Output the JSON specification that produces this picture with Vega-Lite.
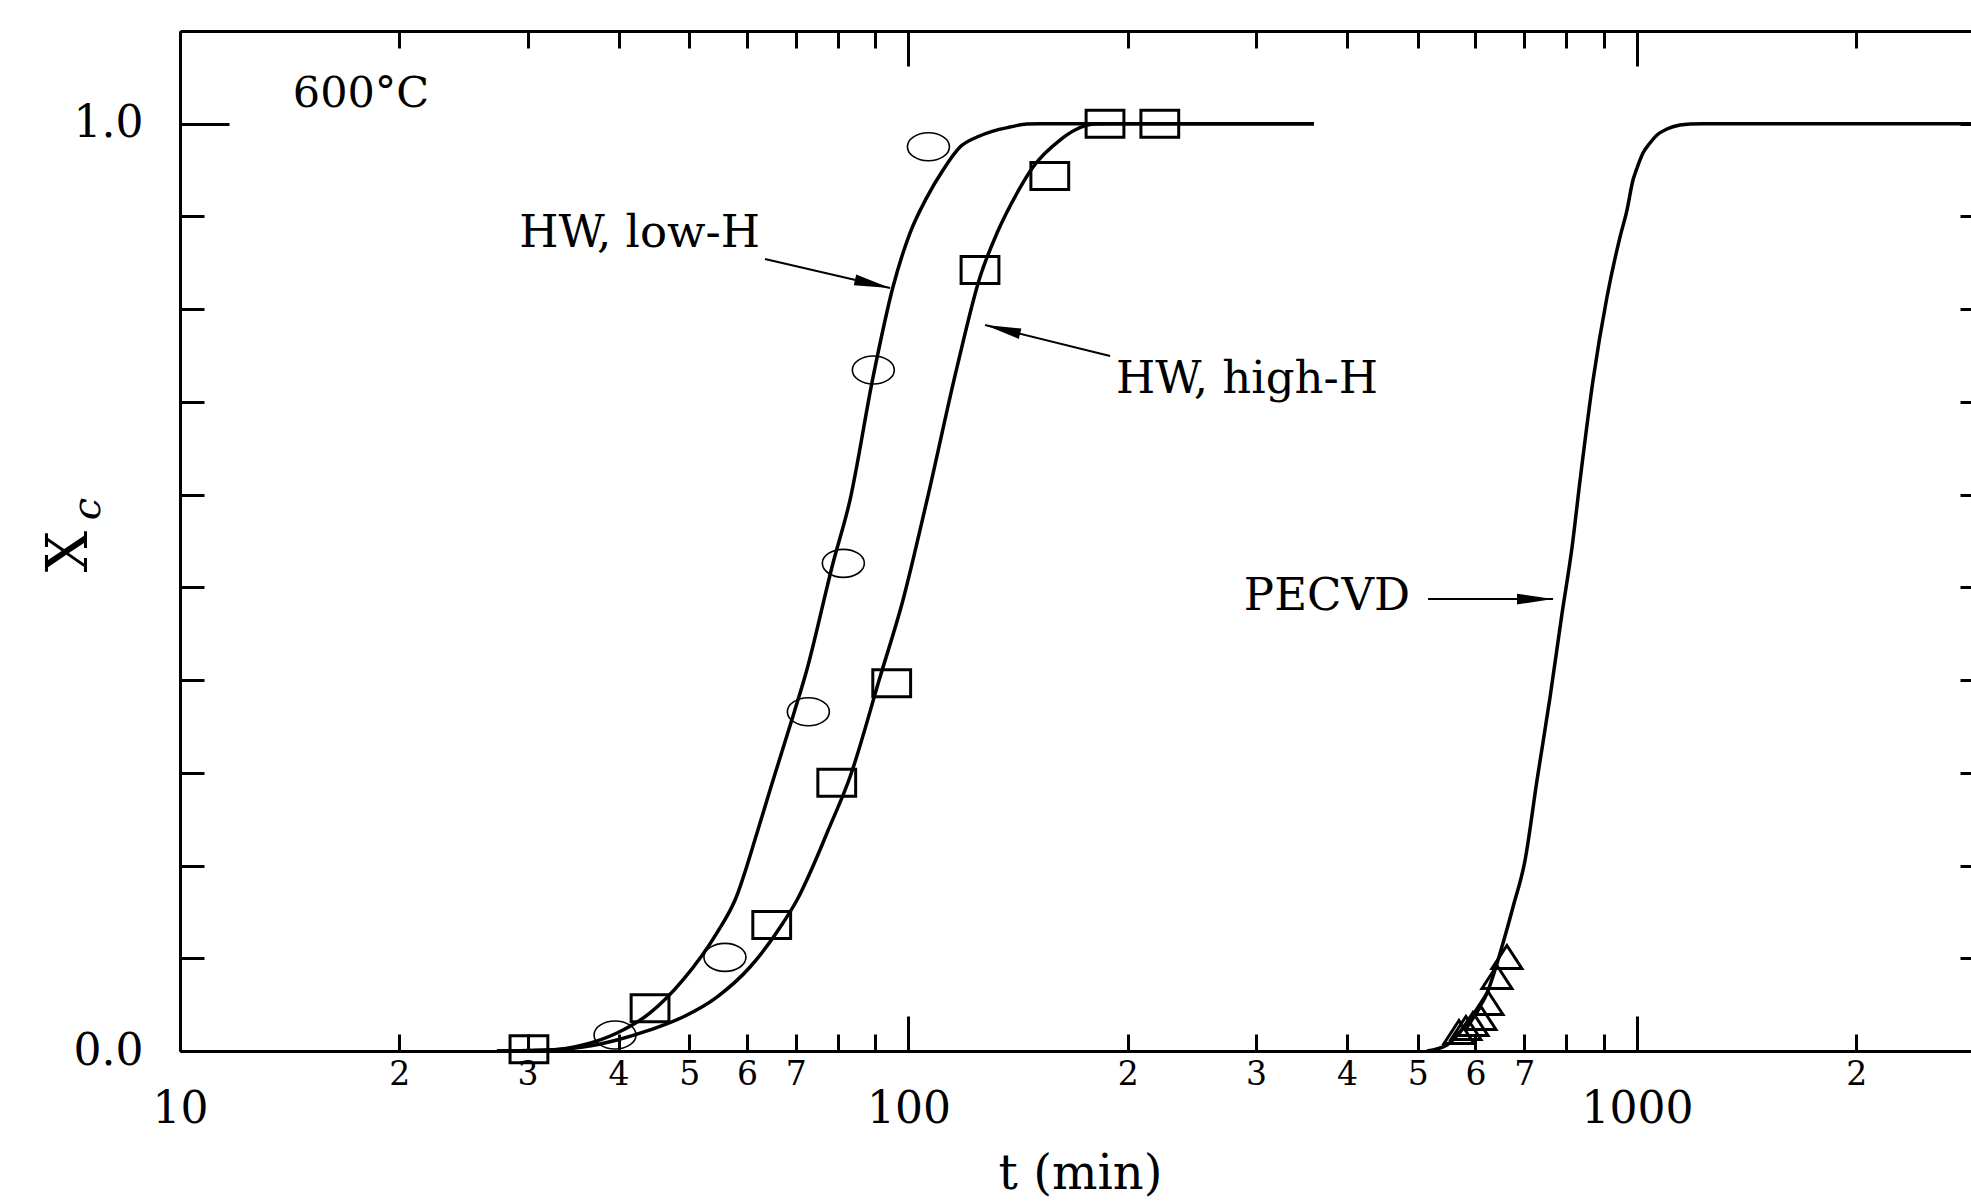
{
  "$schema": "https://vega.github.io/schema/vega-lite/v6.json",
  "width": 1791,
  "height": 1020,
  "autosize": {"type": "none"},
  "padding": {"left": 180, "top": 31, "right": 0, "bottom": 151},
  "background": "white",
  "config": {
    "view": {"stroke": null},
    "axis": {
      "grid": false,
      "domainColor": "black",
      "tickColor": "black",
      "domainWidth": 3,
      "tickWidth": 3,
      "labelColor": "black",
      "labelFont": "DejaVu Serif",
      "titleFont": "DejaVu Serif",
      "titleColor": "black",
      "titleFontWeight": "normal"
    },
    "text": {"font": "DejaVu Serif", "color": "black"}
  },
  "layer": [
    {
      "data": {"values": [
        {"s": "low", "t": 27.23, "xc": 0},
        {"s": "low", "t": 32.20, "xc": 0.0011},
        {"s": "low", "t": 35.74, "xc": 0.0065},
        {"s": "low", "t": 39.80, "xc": 0.0194},
        {"s": "low", "t": 44.18, "xc": 0.0410},
        {"s": "low", "t": 49.03, "xc": 0.0766},
        {"s": "low", "t": 54.58, "xc": 0.1273},
        {"s": "low", "t": 57.80, "xc": 0.1628},
        {"s": "low", "t": 61.95, "xc": 0.2351},
        {"s": "low", "t": 64.74, "xc": 0.2847},
        {"s": "low", "t": 69.63, "xc": 0.3645},
        {"s": "low", "t": 72.32, "xc": 0.4076},
        {"s": "low", "t": 78.78, "xc": 0.5263},
        {"s": "low", "t": 83.12, "xc": 0.5942},
        {"s": "low", "t": 89.40, "xc": 0.7268},
        {"s": "low", "t": 95.21, "xc": 0.8239},
        {"s": "low", "t": 100.47, "xc": 0.8821},
        {"s": "low", "t": 106.03, "xc": 0.9209},
        {"s": "low", "t": 111.54, "xc": 0.9501},
        {"s": "low", "t": 117.69, "xc": 0.9749},
        {"s": "low", "t": 124.2, "xc": 0.9857},
        {"s": "low", "t": 130.6, "xc": 0.9921},
        {"s": "low", "t": 137.87, "xc": 0.9964},
        {"s": "low", "t": 145.4, "xc": 0.9997},
        {"s": "low", "t": 151.55, "xc": 1.0},
        {"s": "low", "t": 360.2, "xc": 1.0},
        {"s": "high", "t": 27.23, "xc": 0},
        {"s": "high", "t": 32.20, "xc": 0.0011},
        {"s": "high", "t": 35.74, "xc": 0.0043},
        {"s": "high", "t": 39.80, "xc": 0.0119},
        {"s": "high", "t": 44.18, "xc": 0.0227},
        {"s": "high", "t": 49.03, "xc": 0.0367},
        {"s": "high", "t": 54.58, "xc": 0.0582},
        {"s": "high", "t": 60.61, "xc": 0.0906},
        {"s": "high", "t": 67.25, "xc": 0.1380},
        {"s": "high", "t": 70.30, "xc": 0.1628},
        {"s": "high", "t": 74.88, "xc": 0.2092},
        {"s": "high", "t": 77.29, "xc": 0.2351},
        {"s": "high", "t": 83.12, "xc": 0.2955},
        {"s": "high", "t": 91.40, "xc": 0.4033},
        {"s": "high", "t": 98.28, "xc": 0.4864},
        {"s": "high", "t": 106.03, "xc": 0.5942},
        {"s": "high", "t": 116.58, "xc": 0.7376},
        {"s": "high", "t": 125.36, "xc": 0.8347},
        {"s": "high", "t": 132.28, "xc": 0.8821},
        {"s": "high", "t": 140.95, "xc": 0.9253},
        {"s": "high", "t": 148.23, "xc": 0.9533},
        {"s": "high", "t": 161.43, "xc": 0.9824},
        {"s": "high", "t": 169.26, "xc": 0.9932},
        {"s": "high", "t": 179.7, "xc": 0.9997},
        {"s": "high", "t": 189.1, "xc": 1.0},
        {"s": "high", "t": 360.2, "xc": 1.0},
        {"s": "pecvd", "t": 514.9, "xc": 0},
        {"s": "pecvd", "t": 548.5, "xc": 0.0065},
        {"s": "pecvd", "t": 584.4, "xc": 0.0302},
        {"s": "pecvd", "t": 622.5, "xc": 0.0625},
        {"s": "pecvd", "t": 654.8, "xc": 0.1165},
        {"s": "pecvd", "t": 675.8, "xc": 0.1553},
        {"s": "pecvd", "t": 702.1, "xc": 0.2060},
        {"s": "pecvd", "t": 729.1, "xc": 0.2922},
        {"s": "pecvd", "t": 759.8, "xc": 0.3818},
        {"s": "pecvd", "t": 789.2, "xc": 0.4723},
        {"s": "pecvd", "t": 814.5, "xc": 0.5435},
        {"s": "pecvd", "t": 835.4, "xc": 0.6158},
        {"s": "pecvd", "t": 870.4, "xc": 0.7236},
        {"s": "pecvd", "t": 909.5, "xc": 0.8131},
        {"s": "pecvd", "t": 947.7, "xc": 0.8778},
        {"s": "pecvd", "t": 968.9, "xc": 0.9069},
        {"s": "pecvd", "t": 987.4, "xc": 0.9393},
        {"s": "pecvd", "t": 1000, "xc": 0.9522},
        {"s": "pecvd", "t": 1019.2, "xc": 0.9684},
        {"s": "pecvd", "t": 1042.0, "xc": 0.9792},
        {"s": "pecvd", "t": 1065.3, "xc": 0.9878},
        {"s": "pecvd", "t": 1099.5, "xc": 0.9943},
        {"s": "pecvd", "t": 1145.6, "xc": 0.9986},
        {"s": "pecvd", "t": 1182.4, "xc": 0.9997},
        {"s": "pecvd", "t": 1232, "xc": 1.0},
        {"s": "pecvd", "t": 2874, "xc": 1.0}
      ]},
      "mark": {"type": "line", "color": "black", "strokeWidth": 3.5, "interpolate": "monotone"},
      "encoding": {
        "x": {
          "field": "t", "type": "quantitative",
          "scale": {"type": "log", "domain": [10, 2874], "nice": false},
          "axis": {
            "orient": "bottom",
            "values": [10, 20, 30, 40, 50, 60, 70, 80, 90, 100, 200, 300, 400, 500, 600, 700, 800, 900, 1000, 2000],
            "tickSize": {"condition": {"test": "datum.value == 10 || datum.value == 100 || datum.value == 1000", "value": -35}, "value": -17},
            "labelExpr": "indexof([10,100,1000], datum.value) >= 0 ? toString(datum.value) : (indexof([20,30,40,50,60,70,200,300,400,500,600,700,2000], datum.value) >= 0 ? substring(toString(datum.value), 0, 1) : '')",
            "labelFontSize": {"condition": {"test": "datum.value == 10 || datum.value == 100 || datum.value == 1000", "value": 44}, "value": 33},
            "labelPadding": {"condition": {"test": "datum.value == 10 || datum.value == 100 || datum.value == 1000", "value": 71}, "value": 24},
            "labelBaseline": "top",
            "labelAlign": "center",
            "labelFlush": false,
            "labelOverlap": false,
            "labelBound": false,
            "title": "t (min)",
            "titleFontSize": 48,
            "titleX": 900,
            "titleY": 137,
            "titleAlign": "center",
            "titleBaseline": "alphabetic"
          }
        },
        "y": {
          "field": "xc", "type": "quantitative",
          "scale": {"domain": [0, 1.1], "nice": false, "zero": false},
          "axis": {
            "orient": "left",
            "values": [0, 0.1, 0.2, 0.3, 0.4, 0.5, 0.6, 0.7, 0.8, 0.9, 1],
            "tickSize": {"condition": {"test": "datum.value == 0 || datum.value == 1", "value": -49}, "value": -24},
            "labelExpr": "datum.value == 0 ? '0.0' : (datum.value == 1 ? '1.0' : '')",
            "labelFontSize": 44,
            "labelPadding": {"condition": {"test": "datum.value == 0 || datum.value == 1", "value": 86}, "value": 61},
            "labelBaseline": "middle",
            "labelAlign": "right",
            "labelFlush": false,
            "labelOverlap": false,
            "labelBound": false,
            "title": "X",
            "titleFontSize": 58,
            "titleAngle": 270,
            "titleX": -111,
            "titleY": 520,
            "titleAlign": "center",
            "titleBaseline": "middle"
          }
        },
        "detail": {"field": "s"}
      }
    },
    {
      "data": {"values": [
        {"t": 39.55, "xc": 0.0173},
        {"t": 55.98, "xc": 0.1010},
        {"t": 72.87, "xc": 0.3659},
        {"t": 81.39, "xc": 0.5259},
        {"t": 89.48, "xc": 0.7344},
        {"t": 106.5, "xc": 0.9752}
      ]},
      "mark": {
        "type": "point",
        "shape": "M 1.5 0 C 1.5 0.5523 0.8284 1 0 1 C -0.8284 1 -1.5 0.5523 -1.5 0 C -1.5 -0.5523 -0.8284 -1 0 -1 C 0.8284 -1 1.5 -0.5523 1.5 0 Z",
        "size": 784,
        "filled": false,
        "color": "black",
        "strokeWidth": 1.6,
        "opacity": 1
      },
      "encoding": {
        "x": {
          "field": "t", "type": "quantitative",
          "axis": {
            "orient": "top",
            "values": [10, 20, 30, 40, 50, 60, 70, 80, 90, 100, 200, 300, 400, 500, 600, 700, 800, 900, 1000, 2000],
            "tickSize": {"condition": {"test": "datum.value == 10 || datum.value == 100 || datum.value == 1000", "value": -35}, "value": -17},
            "labels": false,
            "title": null
          }
        },
        "y": {
          "field": "xc", "type": "quantitative",
          "axis": {
            "orient": "right",
            "values": [0.1, 0.2, 0.3, 0.4, 0.5, 0.6, 0.7, 0.8, 0.9, 1],
            "tickSize": -11,
            "labels": false,
            "domain": false,
            "title": null
          }
        }
      }
    },
    {
      "data": {"values": [
        {"t": 30.13, "xc": 0.002},
        {"t": 44.18, "xc": 0.046},
        {"t": 64.90, "xc": 0.1359},
        {"t": 79.71, "xc": 0.2894},
        {"t": 94.83, "xc": 0.3965},
        {"t": 125.36, "xc": 0.8422},
        {"t": 156.3, "xc": 0.9436},
        {"t": 186.1, "xc": 1.0},
        {"t": 221.3, "xc": 1.0}
      ]},
      "mark": {
        "type": "point",
        "shape": "M -1.4 -1 L 1.4 -1 L 1.4 1 L -1.4 1 Z",
        "size": 729,
        "filled": false,
        "color": "black",
        "strokeWidth": 3,
        "opacity": 1
      },
      "encoding": {
        "x": {"field": "t", "type": "quantitative", "axis": null},
        "y": {"field": "xc", "type": "quantitative", "axis": null}
      }
    },
    {
      "data": {"values": [
        {"t": 662.9, "xc": 0.1014},
        {"t": 642.3, "xc": 0.0798},
        {"t": 624.4, "xc": 0.0518},
        {"t": 610.7, "xc": 0.0356},
        {"t": 595.5, "xc": 0.0291},
        {"t": 582.4, "xc": 0.0248},
        {"t": 569.7, "xc": 0.0205}
      ]},
      "mark": {
        "type": "point",
        "shape": "M 0 -1 L 1.3 1 L -1.3 1 Z",
        "size": 529,
        "filled": false,
        "color": "black",
        "strokeWidth": 3,
        "opacity": 1
      },
      "encoding": {
        "x": {"field": "t", "type": "quantitative", "axis": null},
        "y": {"field": "xc", "type": "quantitative", "axis": null}
      }
    },
    {
      "data": {"values": [{"label": "600°C", "t": 17.72, "xc": 1.018}]},
      "mark": {"type": "text", "align": "center", "baseline": "alphabetic", "fontSize": 43},
      "encoding": {
        "x": {"field": "t", "type": "quantitative", "axis": null},
        "y": {"field": "xc", "type": "quantitative", "axis": null},
        "text": {"field": "label"}
      }
    },
    {
      "data": {"values": [
        {"label": "HW, low-H", "t": 62.55, "xc": 0.867},
        {"label": "PECVD", "t": 488.0, "xc": 0.4756}
      ]},
      "mark": {"type": "text", "align": "right", "baseline": "alphabetic", "fontSize": 45},
      "encoding": {
        "x": {"field": "t", "type": "quantitative", "axis": null},
        "y": {"field": "xc", "type": "quantitative", "axis": null},
        "text": {"field": "label"}
      }
    },
    {
      "data": {"values": [{"label": "HW, high-H", "t": 192.7, "xc": 0.7096}]},
      "mark": {"type": "text", "align": "left", "baseline": "alphabetic", "fontSize": 45},
      "encoding": {
        "x": {"field": "t", "type": "quantitative", "axis": null},
        "y": {"field": "xc", "type": "quantitative", "axis": null},
        "text": {"field": "label"}
      }
    },
    {
      "data": {"values": [{"label": "c", "t": 7.477, "xc": 0.5845}]},
      "mark": {"type": "text", "align": "center", "baseline": "middle", "fontSize": 40, "fontStyle": "italic", "angle": 270},
      "encoding": {
        "x": {"field": "t", "type": "quantitative", "axis": null},
        "y": {"field": "xc", "type": "quantitative", "axis": null},
        "text": {"field": "label"}
      }
    },
    {
      "data": {"values": [
        {"t": 63.53, "xc": 0.8541, "t2": 94.33, "xc2": 0.8228},
        {"t": 189.1, "xc": 0.7495, "t2": 127.4, "xc2": 0.7829},
        {"t": 516.6, "xc": 0.4874, "t2": 766.9, "xc2": 0.4874}
      ]},
      "mark": {"type": "rule", "color": "black", "strokeWidth": 2},
      "encoding": {
        "x": {"field": "t", "type": "quantitative", "axis": null},
        "y": {"field": "xc", "type": "quantitative", "axis": null},
        "x2": {"field": "t2"},
        "y2": {"field": "xc2"}
      }
    },
    {
      "data": {"values": [{"t": 94.33, "xc": 0.8228}]},
      "mark": {"type": "point", "shape": "M 0 0 L -2 -0.3 L -2 0.3 Z", "size": 1296, "filled": true, "color": "black", "opacity": 1, "strokeWidth": 0, "angle": 13.1},
      "encoding": {
        "x": {"field": "t", "type": "quantitative", "axis": null},
        "y": {"field": "xc", "type": "quantitative", "axis": null}
      }
    },
    {
      "data": {"values": [{"t": 127.4, "xc": 0.7829}]},
      "mark": {"type": "point", "shape": "M 0 0 L -2 -0.3 L -2 0.3 Z", "size": 1296, "filled": true, "color": "black", "opacity": 1, "strokeWidth": 0, "angle": 193.9},
      "encoding": {
        "x": {"field": "t", "type": "quantitative", "axis": null},
        "y": {"field": "xc", "type": "quantitative", "axis": null}
      }
    },
    {
      "data": {"values": [{"t": 766.9, "xc": 0.4874}]},
      "mark": {"type": "point", "shape": "M 0 0 L -2 -0.3 L -2 0.3 Z", "size": 1296, "filled": true, "color": "black", "opacity": 1, "strokeWidth": 0, "angle": 0},
      "encoding": {
        "x": {"field": "t", "type": "quantitative", "axis": null},
        "y": {"field": "xc", "type": "quantitative", "axis": null}
      }
    }
  ]
}
